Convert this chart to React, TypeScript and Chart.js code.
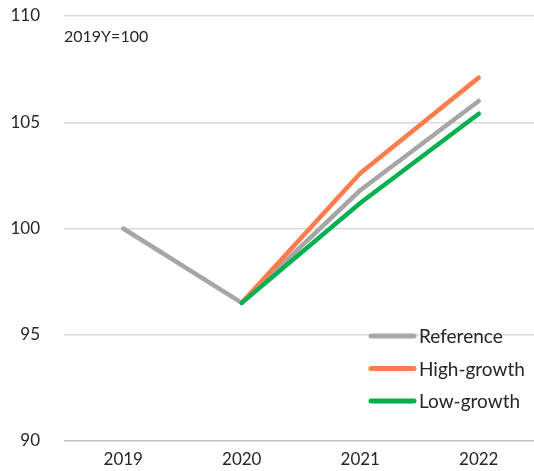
import React, { useEffect, useRef } from "react";
import { Chart, registerables } from "chart.js";

Chart.register(...registerables);

const years = ["2019", "2020", "2021", "2022"];
const referenceSeries = [100, 96.5, 101.8, 106.0];
const highGrowth = [null, 96.5, 102.6, 107.1];
const lowGrowth = [null, 96.5, 101.2, 105.4];
const yTicks = [90, 95, 100, 105, 110];
const note = "2019Y=100";

const FONT = "Lato, 'Open Sans', sans-serif";
const TEXT = "#262626";

const overlayPlugin = {
  id: "overlay",
  afterDraw(chart: any) {
    const { ctx, chartArea } = chart;
    ctx.save();
    ctx.fillStyle = TEXT;
    ctx.font = `16px ${FONT}`;
    ctx.textBaseline = "middle";
    ctx.textAlign = "left";
    ctx.fillText(note, chartArea.left, chartArea.top + 21);

    const ds = chart.data.datasets;
    const x0 = chartArea.right - 167;
    const rows = [chartArea.bottom - 105, chartArea.bottom - 72.5, chartArea.bottom - 40];
    ds.forEach((d: any, i: number) => {
      const y = rows[i];
      ctx.strokeStyle = d.borderColor;
      ctx.lineWidth = 5;
      ctx.lineCap = "round";
      ctx.beginPath();
      ctx.moveTo(x0, y);
      ctx.lineTo(x0 + 43, y);
      ctx.stroke();
      ctx.fillStyle = TEXT;
      ctx.font = `19px ${FONT}`;
      ctx.fillText(d.label, x0 + 48, y + 1);
    });
    ctx.restore();
  },
};

export default function App() {
  const ref = useRef<HTMLCanvasElement>(null);
  useEffect(() => {
    if (!ref.current) return;
    const common = {
      borderWidth: 4.5,
      pointRadius: 0,
      pointHoverRadius: 0,
      tension: 0,
      borderCapStyle: "round",
      borderJoinStyle: "round",
      fill: false,
      spanGaps: false,
    };
    const chart = new Chart(ref.current, {
      type: "line",
      data: {
        labels: years,
        datasets: [
          { ...common, label: "Reference", data: referenceSeries, borderColor: "#A6A6A6", order: 3 },
          { ...common, label: "High-growth", data: highGrowth, borderColor: "#FF7C4D", order: 2 },
          { ...common, label: "Low-growth", data: lowGrowth, borderColor: "#00B050", order: 1 },
        ] as any,
      },
      options: {
        animation: false,
        responsive: true,
        maintainAspectRatio: false,
        layout: { padding: { top: 0, left: 10, right: 0, bottom: 0 } },
        plugins: { legend: { display: false }, tooltip: { enabled: false } },
        scales: {
          x: {
            offset: true,
            afterFit: (axis: any) => {
              axis.height = 30;
            },
            grid: { display: false, drawTicks: false },
            border: { display: false },
            ticks: { color: TEXT, font: { family: FONT, size: 17 }, padding: 8 },
          },
          y: {
            min: 90,
            max: 110,
            afterBuildTicks: (axis: any) => {
              axis.ticks = yTicks.map((v) => ({ value: v }));
            },
            afterFit: (axis: any) => {
              axis.width = 54;
              axis.paddingTop = 16;
              axis.paddingBottom = 10;
            },
            grid: {
              drawTicks: false,
              color: (c: any) => (c.tick && c.tick.value === 90 ? "#BFBFBF" : "#D9D9D9"),
              lineWidth: 1.5,
            },
            border: { display: false },
            ticks: { color: TEXT, font: { family: FONT, size: 17 }, padding: 24 },
          },
        },
      },
      plugins: [overlayPlugin],
    });
    return () => chart.destroy();
  }, []);
  return (
    <div style={{ position: "fixed", left: 0, top: 0, width: 534, height: 471, overflow: "hidden", background: "#fff" }}>
      <div style={{ position: "relative", width: 538, height: 471 }}>
        <canvas ref={ref} />
      </div>
    </div>
  );
}
